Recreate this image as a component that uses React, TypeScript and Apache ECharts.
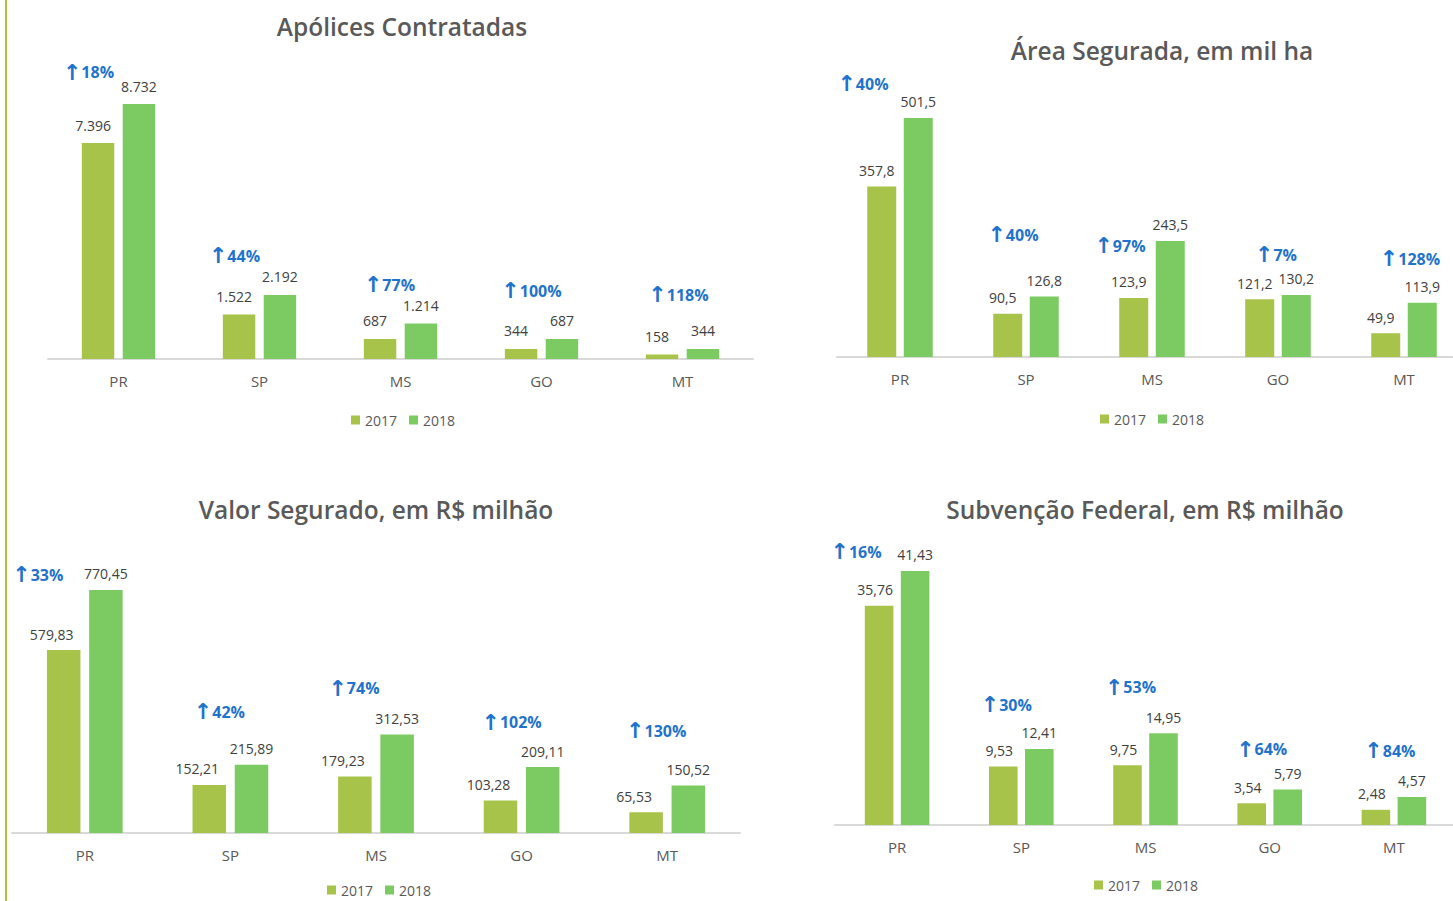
import React, { useEffect, useRef } from "react";
import * as echarts from "echarts";

const categories = ["PR", "SP", "MS", "GO", "MT"];
const years = ["2017", "2018"];

const apolices2017 = [7396, 1522, 687, 344, 158];
const apolices2018 = [8732, 2192, 1214, 687, 344];
const apolicesPct = [18, 44, 77, 100, 118];

const area2017 = [357.8, 90.5, 123.9, 121.2, 49.9];
const area2018 = [501.5, 126.8, 243.5, 130.2, 113.9];
const areaPct = [40, 40, 97, 7, 128];

const valor2017 = [579.83, 152.21, 179.23, 103.28, 65.53];
const valor2018 = [770.45, 215.89, 312.53, 209.11, 150.52];
const valorPct = [33, 42, 74, 102, 130];

const subv2017 = [35.76, 9.53, 9.75, 3.54, 2.48];
const subv2018 = [41.43, 12.41, 14.95, 5.79, 4.57];
const subvPct = [16, 30, 53, 64, 84];

const COLOR_2017 = "#A8C34A";
const COLOR_2018 = "#7CCB62";
const BLUE = "#1F73CC";
const FONT = "'Open Sans', 'Noto Sans', sans-serif";

function fmt(v: number, decimals: number): string {
  const s = v.toFixed(decimals);
  const [ip, fp] = s.split(".");
  const withSep = ip.replace(/\B(?=(\d{3})+(?!\d))/g, ".");
  return fp ? withSep + "," + fp : withSep;
}

const panels = [
  {
    title: "Apólices Contratadas",
    titleX: 397, titleY: 9,
    grid: { left: 48, width: 705, top: 67, height: 292 },
    yMax: 10000, decimals: 0,
    a: apolices2017, b: apolices2018, pct: apolicesPct,
    legendX: 346, legendY: 408,
    pctDx: [-30, -25, -11, -10, -4], pctDy: [32, 39, 39, 48, 54],
    lab17Dx: -5, labDist: 11,
  },
  {
    title: "Área Segurada, em mil ha",
    titleX: 1157, titleY: 33,
    grid: { left: 837, width: 630, top: 71, height: 286 },
    yMax: 600, decimals: 1,
    a: area2017, b: area2018, pct: areaPct,
    legendX: 1095, legendY: 407,
    pctDx: [-37, -13, -32, -2, 6], pctDy: [34, 62, -5, 40, 44],
    lab17Dx: -5, labDist: 9,
  },
  {
    title: "Valor Segurado, em R$ milhão",
    titleX: 371, titleY: 492,
    grid: { left: 12, width: 728, top: 549, height: 284 },
    yMax: 900, decimals: 2,
    a: valor2017, b: valor2018, pct: valorPct,
    legendX: 322, legendY: 878,
    pctDx: [-47, -11, -22, -10, -11], pctDy: [15, 53, 46, 45, 55],
    lab17Dx: -12, labDist: 9,
  },
  {
    title: "Subvenção Federal, em R$ milhão",
    titleX: 1140, titleY: 492,
    grid: { left: 835, width: 621, top: 549, height: 276 },
    yMax: 45, decimals: 2,
    a: subv2017, b: subv2018, pct: subvPct,
    legendX: 1089, legendY: 873,
    pctDx: [-41, -15, -15, -8, -4], pctDy: [19, 44, 46, 40, 46],
    lab17Dx: -4, labDist: 9,
  },
];

export default function App() {
  const ref = useRef<HTMLDivElement>(null);
  useEffect(() => {
    if (!ref.current) return;
    const chart = echarts.init(ref.current, undefined, { renderer: "svg" });

    const titles: any[] = [];
    const grids: any[] = [];
    const xAxes: any[] = [];
    const yAxes: any[] = [];
    const legends: any[] = [];
    const series: any[] = [];

    panels.forEach((p, gi) => {
      titles.push({
        text: p.title,
        left: p.titleX,
        top: p.titleY,
        textAlign: "center",
        textStyle: { fontFamily: FONT, fontSize: 24.5, fontWeight: 600, color: "#595959" },
      });
      grids.push({ ...p.grid, containLabel: false });
      xAxes.push({
        type: "category",
        gridIndex: gi,
        data: categories,
        axisLine: { show: true, lineStyle: { color: "#D9D9D9", width: 2 } },
        axisTick: { show: false },
        axisLabel: { color: "#595959", fontFamily: FONT, fontSize: 15, margin: 14 },
      });
      yAxes.push({
        type: "value",
        gridIndex: gi,
        min: 0,
        max: p.yMax,
        show: false,
        splitLine: { show: false },
      });
      legends.push({
        data: years,
        left: p.legendX,
        top: p.legendY,
        icon: "rect",
        itemWidth: 9,
        itemHeight: 9,
        itemGap: 12,
        textStyle: { fontFamily: FONT, fontSize: 14, color: "#595959" },
      });
      const labelBase = {
        show: true,
        position: "top",
        distance: p.labDist,
        fontFamily: FONT,
        fontSize: 14,
        color: "#404040",
      };
      series.push({
        type: "bar",
        name: years[0],
        xAxisIndex: gi,
        yAxisIndex: gi,
        data: p.a,
        barGap: "26%",
        barCategoryGap: "48%",
        itemStyle: { color: COLOR_2017 },
        label: { ...labelBase, offset: [p.lab17Dx, 0], formatter: (d: any) => fmt(d.value, p.decimals) },
      });
      series.push({
        type: "bar",
        name: years[1],
        xAxisIndex: gi,
        yAxisIndex: gi,
        data: p.b,
        barGap: "26%",
        barCategoryGap: "48%",
        itemStyle: { color: COLOR_2018 },
        label: { ...labelBase, formatter: (d: any) => fmt(d.value, p.decimals) },
      });
      series.push({
        type: "custom",
        name: "pct" + gi,
        xAxisIndex: gi,
        yAxisIndex: gi,
        silent: true,
        data: categories.map((_, i) => [i, Math.max(p.a[i], p.b[i]), p.pct[i]]),
        renderItem: (params: any, api: any) => {
          const i = api.value(0);
          const pt = api.coord([i, api.value(1)]);
          return {
            type: "text",
            x: pt[0] + p.pctDx[i],
            y: pt[1] - p.pctDy[i],
            style: {
              text: "{a|↑}{b|" + api.value(2) + "%}",
              align: "center",
              verticalAlign: "middle",
              rich: {
                a: { fontFamily: "'DejaVu Sans', sans-serif", fontSize: 22, fontWeight: "bold", fill: BLUE, color: BLUE },
                b: { fontFamily: FONT, fontSize: 16, fontWeight: "bold", fill: BLUE, color: BLUE },
              },
            },
          };
        },
      });
    });

    chart.setOption({
      animation: false,
      backgroundColor: "#FFFFFF",
      title: titles,
      grid: grids,
      xAxis: xAxes,
      yAxis: yAxes,
      legend: legends,
      series,
      graphic: [
        {
          type: "line",
          shape: { x1: 6, y1: 0, x2: 6, y2: 901 },
          style: { stroke: "#AFC23A", lineWidth: 2 },
          silent: true,
        },
      ],
    });
    return () => chart.dispose();
  }, []);
  return (
    <div style={{ position: "fixed", left: 0, top: 0, width: 1453, height: 901, overflow: "hidden", background: "#fff" }}>
      <div ref={ref} style={{ position: "absolute", left: 0, top: 0, width: 1470, height: 901 }} />
    </div>
  );
}
